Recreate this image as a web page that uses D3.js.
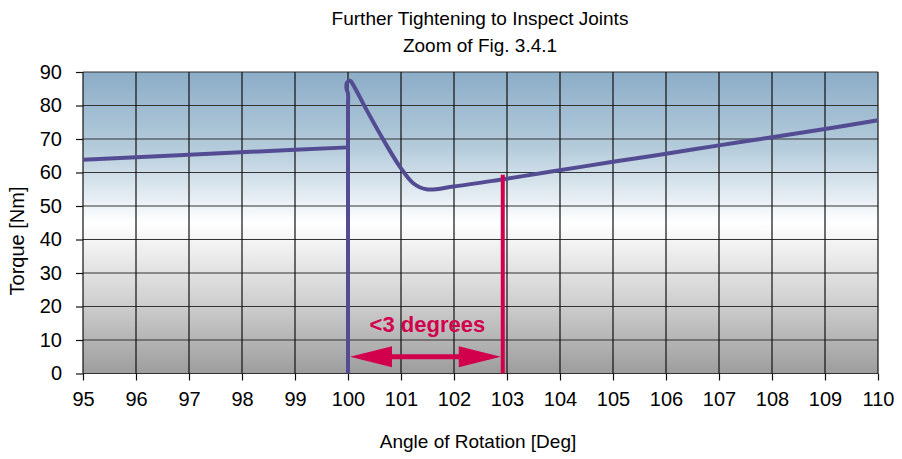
<!DOCTYPE html>
<html>
<head>
<meta charset="utf-8">
<script src="https://cdn.jsdelivr.net/npm/d3@7"></script>
<style>
  body { margin: 0; background: #fff; }
  text { font-family: "Liberation Sans", Arial, sans-serif; fill: #000; }
</style>
</head>
<body>
<svg width="902" height="459"></svg>
<script>
// torque-angle readings
var xTicks = [95, 96, 97, 98, 99, 100, 101, 102, 103, 104, 105, 106, 107, 108, 109, 110];
var yTicks = [0, 10, 20, 30, 40, 50, 60, 70, 80, 90];

// snug tightening before the zoomed inspection
var firstAngle  = [95, 97, 99, 100];
var firstTorque = [63.8, 65.3, 66.8, 67.5];

// further tightening: start from zero, break-away peak, dip, then climb
var secondAngle  = [100, 100, 100, 100, 99.97, 99.98, 100.04, 100.1, 100.35, 100.67, 100.98, 101.23, 101.48, 101.99, 102.93, 103.81, 105, 106, 107, 108, 109, 110];
var secondTorque = [0, 40, 80, 83.5, 85.3, 86.8, 87.4, 86.1, 78.7, 69.7, 61.7, 56.8, 55.0, 55.8, 58.0, 60.2, 63.2, 65.6, 68.1, 70.5, 73.0, 75.6];

var markAngle = 102.92;
var markTorque = 59.3;
var arrowTorque = 5;
var arrowLabel = "<3 degrees";

var svg = d3.select("svg");
var mLeft = 83, mRight = 878, mTop = 72, mBottom = 373.5;

var x = d3.scaleLinear().domain([95, 110]).range([mLeft, mRight]);
var y = d3.scaleLinear().domain([0, 90]).range([mBottom, mTop]);

var defs = svg.append("defs");
var grad = defs.append("linearGradient")
    .attr("id", "bg").attr("x1", 0).attr("y1", 0).attr("x2", 0).attr("y2", 1);
[[0, "#8cadc7"], [0.25, "#b4cbdb"], [0.5, "#ffffff"], [0.75, "#d2d2d2"], [1, "#9d9d9d"]]
  .forEach(function(s) {
    grad.append("stop").attr("offset", s[0]).attr("stop-color", s[1]);
  });

svg.append("rect")
    .attr("x", mLeft).attr("y", mTop)
    .attr("width", mRight - mLeft).attr("height", mBottom - mTop)
    .attr("fill", "url(#bg)");

// grid
svg.append("g").selectAll("line")
    .data(yTicks)
    .enter().append("line")
    .attr("x1", mLeft).attr("x2", mRight)
    .attr("y1", function(d) { return y(d); })
    .attr("y2", function(d) { return y(d); })
    .attr("stroke", "#333").attr("stroke-width", 1.2);

svg.append("g").selectAll("line")
    .data(xTicks)
    .enter().append("line")
    .attr("y1", mTop).attr("y2", mBottom)
    .attr("x1", function(d) { return x(d); })
    .attr("x2", function(d) { return x(d); })
    .attr("stroke", "#111").attr("stroke-width", 1.2);

// axes
var xAxis = svg.append("g")
    .attr("transform", "translate(0," + mBottom + ")")
    .call(d3.axisBottom(x).tickValues(xTicks).tickSize(7).tickPadding(11).tickFormat(d3.format("d")));
var yAxis = svg.append("g")
    .attr("transform", "translate(" + mLeft + ",0)")
    .call(d3.axisLeft(y).tickValues(yTicks).tickSize(7).tickPadding(14));
[xAxis, yAxis].forEach(function(a) {
  a.select(".domain").remove();
  a.selectAll("line").attr("stroke", "#111").attr("stroke-width", 1.2);
  a.selectAll("text").style("font-size", "20px").style("font-family", "Liberation Sans, Arial, sans-serif");
});

// curves
var line = d3.line()
    .x(function(d) { return x(d[0]); })
    .y(function(d) { return y(d[1]); });

svg.append("path")
    .datum(d3.zip(firstAngle, firstTorque))
    .attr("d", line.curve(d3.curveLinear))
    .attr("fill", "none").attr("stroke", "#534c93").attr("stroke-width", 4);

svg.append("path")
    .datum(d3.zip(secondAngle, secondTorque))
    .attr("d", line.curve(d3.curveCatmullRom.alpha(0.5)))
    .attr("fill", "none").attr("stroke", "#534c93").attr("stroke-width", 4)
    .attr("stroke-linejoin", "round");

// red marker
svg.append("line")
    .attr("x1", x(markAngle)).attr("x2", x(markAngle))
    .attr("y1", y(0)).attr("y2", y(markTorque))
    .attr("stroke", "#d2004c").attr("stroke-width", 4);

// double arrow
var ax0 = x(100) + 2, ax1 = x(markAngle) - 2, ay = y(arrowTorque);
var headLen = 42, headHalf = 10.5, shaft = 2.6;
svg.append("path")
    .attr("d", "M" + ax0 + "," + ay +
        "L" + (ax0 + headLen) + "," + (ay - headHalf) +
        "L" + (ax0 + headLen) + "," + (ay - shaft) +
        "L" + (ax1 - headLen) + "," + (ay - shaft) +
        "L" + (ax1 - headLen) + "," + (ay - headHalf) +
        "L" + ax1 + "," + ay +
        "L" + (ax1 - headLen) + "," + (ay + headHalf) +
        "L" + (ax1 - headLen) + "," + (ay + shaft) +
        "L" + (ax0 + headLen) + "," + (ay + shaft) +
        "L" + (ax0 + headLen) + "," + (ay + headHalf) + "Z")
    .attr("fill", "#d2004c");

svg.append("text")
    .attr("x", (ax0 + ax1) / 2 + 2).attr("y", 332)
    .attr("text-anchor", "middle")
    .style("font-size", "22px").style("font-weight", "bold").style("fill", "#d2004c")
    .text(arrowLabel);

// titles
svg.append("text").attr("x", 480).attr("y", 25).attr("text-anchor", "middle")
    .style("font-size", "19px").text("Further Tightening to Inspect Joints");
svg.append("text").attr("x", 480).attr("y", 52).attr("text-anchor", "middle")
    .style("font-size", "19px").text("Zoom of Fig. 3.4.1");
svg.append("text").attr("x", 478).attr("y", 448).attr("text-anchor", "middle")
    .style("font-size", "19px").text("Angle of Rotation [Deg]");
svg.append("text")
    .attr("transform", "translate(24,241) rotate(-90)")
    .attr("text-anchor", "middle")
    .style("font-size", "20px").text("Torque [Nm]");
</script>
</body>
</html>
